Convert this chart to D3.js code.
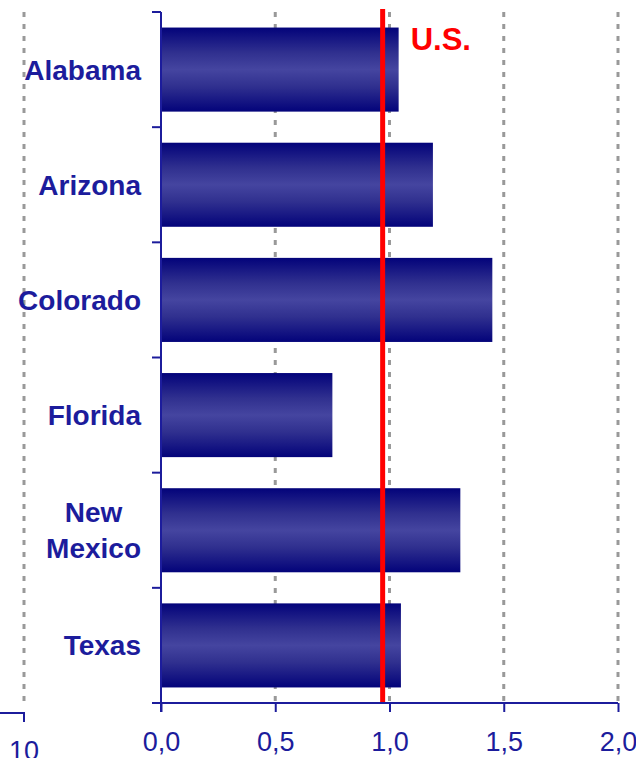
<!DOCTYPE html>
<html>
<head>
<meta charset="utf-8">
<script src="https://cdn.jsdelivr.net/npm/d3@7"></script>
<style>
  body { margin: 0; background: #fff; }
  svg { display: block; font-family: "Liberation Sans", Arial, sans-serif; }
</style>
</head>
<body>
<div id="chart"></div>
<script>
// chart values
var states = ["Alabama", "Arizona", "Colorado", "Florida", "New Mexico", "Texas"];
var ratios = [1.04, 1.19, 1.45, 0.75, 1.31, 1.05];
var usValue = 0.97;
var usLabel = "U.S.";
var xTicks = [0, 0.5, 1.0, 1.5, 2.0];
var neighbourTick = ["10"];

var width = 636, height = 758;
var navy = "#1c1c9c";

var svg = d3.select("#chart").append("svg")
    .attr("width", width)
    .attr("height", height);

// gradient for the bars (dark edges, lighter middle)
var grad = svg.append("defs").append("linearGradient")
    .attr("id", "barGrad")
    .attr("x1", 0).attr("y1", 0).attr("x2", 0).attr("y2", 1);
grad.append("stop").attr("offset", "0%").attr("stop-color", "#03037a");
grad.append("stop").attr("offset", "30%").attr("stop-color", "#30308f");
grad.append("stop").attr("offset", "50%").attr("stop-color", "#4545a0");
grad.append("stop").attr("offset", "70%").attr("stop-color", "#30308f");
grad.append("stop").attr("offset", "100%").attr("stop-color", "#03037a");

var x = d3.scaleLinear().domain([0, 2]).range([161, 618]);
var y = d3.scaleBand().domain(states).range([12, 703]).paddingInner(0.27).paddingOuter(0.135);

// neighbouring chart remnant on the far left
var nx = d3.scaleOrdinal().domain(neighbourTick).range([24]);
svg.append("line")
    .attr("x1", nx("10")).attr("x2", nx("10"))
    .attr("y1", 12).attr("y2", 703)
    .attr("stroke", "#999").attr("stroke-width", 3)
    .attr("stroke-dasharray", "5,7");
svg.append("path")
    .attr("d", "M0,713H" + nx("10") + "V722")
    .attr("fill", "none").attr("stroke", navy).attr("stroke-width", 2);
svg.selectAll(".ntick").data(neighbourTick).enter().append("text")
    .attr("x", function(d) { return nx(d); })
    .attr("y", 760)
    .attr("text-anchor", "middle")
    .attr("font-size", 27)
    .attr("fill", navy)
    .text(function(d) { return d; });

// gridlines
svg.selectAll(".grid")
    .data(xTicks.slice(1))
    .enter().append("line")
    .attr("x1", function(d) { return x(d); })
    .attr("x2", function(d) { return x(d); })
    .attr("y1", 12).attr("y2", 703)
    .attr("stroke", "#999").attr("stroke-width", 3)
    .attr("stroke-dasharray", "5,7");

// bars
svg.selectAll(".bar")
    .data(ratios)
    .enter().append("rect")
    .attr("x", x(0))
    .attr("y", function(d, i) { return y(states[i]); })
    .attr("width", function(d) { return x(d) - x(0); })
    .attr("height", y.bandwidth())
    .attr("fill", "url(#barGrad)");

// U.S. reference line
svg.append("line")
    .attr("x1", x(usValue)).attr("x2", x(usValue))
    .attr("y1", 9).attr("y2", 703)
    .attr("stroke", "#ff0000").attr("stroke-width", 5);
svg.append("text")
    .attr("x", x(usValue) + 28)
    .attr("y", 50)
    .attr("font-size", 31)
    .attr("font-weight", "bold")
    .attr("fill", "#ff0000")
    .text(usLabel);

// x axis
var xAxis = d3.axisBottom(x)
    .tickValues(xTicks)
    .tickSize(9)
    .tickPadding(20)
    .tickFormat(function(d) { return d3.format(".1f")(d).replace(".", ","); });

var gx = svg.append("g")
    .attr("transform", "translate(0,703)")
    .call(xAxis);
gx.select(".domain").attr("d", "M152,0H618");
gx.selectAll("line, path").attr("stroke", navy).attr("stroke-width", 2);
gx.selectAll("text")
    .attr("font-size", 27)
    .attr("font-family", "Liberation Sans, Arial, sans-serif")
    .attr("fill", navy);

// y axis with ticks between categories
var bounds = [12].concat(states.map(function(s) { return y(s) + y.bandwidth() + y.step() * 0.135; }));
svg.append("line")
    .attr("x1", x(0)).attr("x2", x(0))
    .attr("y1", 12).attr("y2", 712)
    .attr("stroke", navy).attr("stroke-width", 2);
svg.selectAll(".ytick")
    .data(bounds)
    .enter().append("line")
    .attr("x1", x(0) - 9).attr("x2", x(0))
    .attr("y1", function(d) { return d; })
    .attr("y2", function(d) { return d; })
    .attr("stroke", navy).attr("stroke-width", 2);

// category labels
var labelRight = 141;
var labels = svg.selectAll(".label")
    .data(states)
    .enter().append("text")
    .attr("font-size", 28)
    .attr("font-weight", "bold")
    .attr("fill", navy);

labels.each(function(d) {
  var t = d3.select(this);
  var lines = d.split(" ");
  var cy = y(d) + y.bandwidth() / 2;
  var lh = 36;
  lines.forEach(function(l, i) {
    t.append("tspan")
      .attr("y", cy + 10 + (i - (lines.length - 1) / 2) * lh)
      .text(l);
  });
  // center lines over each other, block aligned right
  var w = 0;
  t.selectAll("tspan").each(function() { w = Math.max(w, this.getComputedTextLength()); });
  t.attr("text-anchor", "middle");
  t.selectAll("tspan").attr("x", labelRight - w / 2);
});
</script>
</body>
</html>
